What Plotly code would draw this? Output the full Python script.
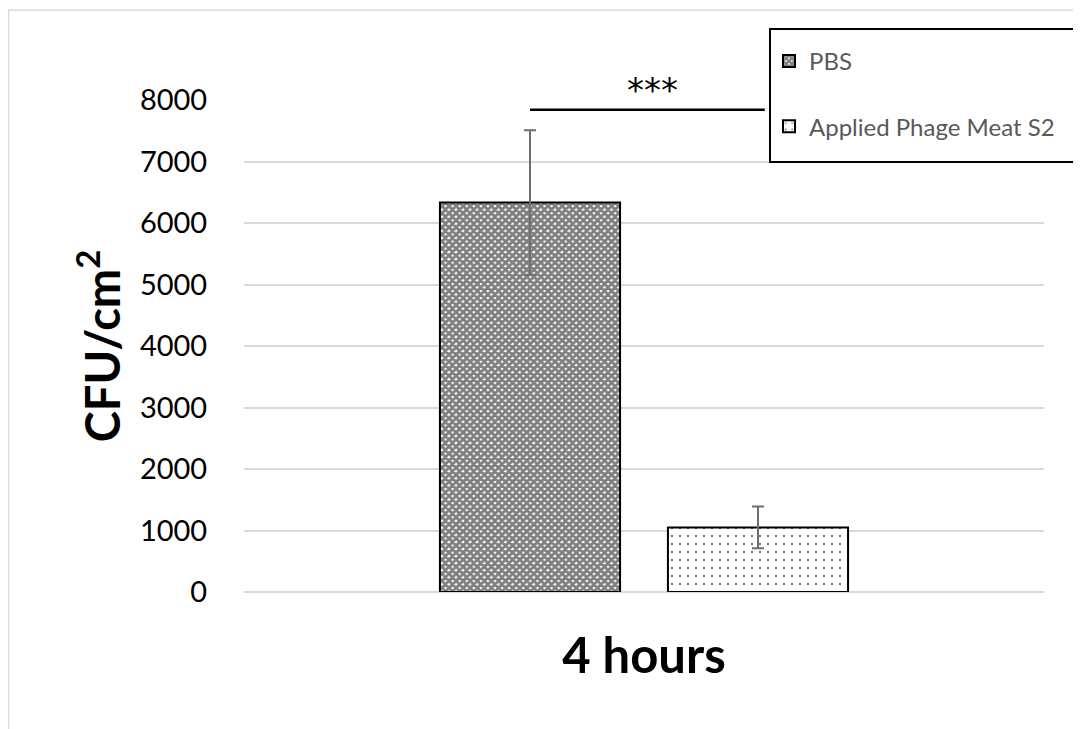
import plotly.graph_objects as go

# ---- data ----
categories = ["4 hours"]
series_names = ["PBS", "Applied Phage Meat S2"]
pbs_values = [6335]
pbs_err = [1175]
phage_values = [1050]
phage_err = [340]
y_ticks = [0, 1000, 2000, 3000, 4000, 5000, 6000, 7000, 8000]
sig_label = "***"
sig_level = 7840

FONT = "Lato"

# plot area in screen pixels (page body has an 8px margin)
PL, PR, PT, PB = 244, 1044, 100, 592
PW, PH = PR - PL, PB - PT


def px(x):
    return (x - PL) / PW


def py(y):
    return (PB - y) / PH


fig = go.Figure()
fig.add_trace(go.Bar(
    name=series_names[0], x=categories, y=pbs_values,
    error_y=dict(type="data", array=pbs_err, color="#6e6e6e", thickness=2, width=6),
    marker=dict(color="white", line=dict(color="black", width=2),
                pattern=dict(shape="x", size=5, solidity=0.8, fgcolor="black", bgcolor="white")),
    legendgroup="a",
))
fig.add_trace(go.Bar(
    name=series_names[1], x=categories, y=phage_values,
    error_y=dict(type="data", array=phage_err, color="#6e6e6e", thickness=2, width=6),
    marker=dict(color="white", line=dict(color="black", width=2),
                pattern=dict(shape=".", size=8, solidity=0.08, fgcolor="black", bgcolor="white")),
    legendgroup="b",
))

# significance bracket (category axis: index 0 spans -0.5..0.5)
sig_x0, sig_x1 = -0.1425, 0.151
fig.add_shape(type="line", xref="x", yref="y", x0=sig_x0, x1=sig_x1, y0=sig_level, y1=sig_level,
              line=dict(color="black", width=2.5), layer="above")
fig.add_annotation(x=(sig_x0 + sig_x1) / 2 + 0.006, y=sig_level, yref="y", xref="x",
                   text=sig_label, showarrow=False, yanchor="middle", yshift=20,
                   font=dict(family="DejaVu Sans", size=34, color="black"))

# legend frame
fig.add_shape(type="rect", xref="paper", yref="paper",
              x0=px(770), x1=px(1075), y0=py(162), y1=py(29),
              line=dict(color="black", width=2), fillcolor="white", layer="above")
# outer chart border (left & top visible)
fig.add_shape(type="rect", xref="paper", yref="paper",
              x0=px(8.5), x1=px(1200), y0=py(800), y1=py(10),
              line=dict(color="#d9d9d9", width=1.5), fillcolor="rgba(0,0,0,0)", layer="below")

fig.update_layout(
    width=1073, height=721,
    margin=dict(l=PL - 8, r=1073 - (PR - 8), t=PT - 8, b=721 - (PB - 8)),
    paper_bgcolor="white", plot_bgcolor="white",
    barmode="group", bargap=0.43, bargroupgap=0.21,
    font=dict(family=FONT, color="black"),
    showlegend=True,
    legend=dict(x=px(769), y=py(39), xanchor="left", yanchor="top",
                bgcolor="rgba(0,0,0,0)", borderwidth=0,
                font=dict(family=FONT, size=24, color="#595959"),
                traceorder="grouped", tracegroupgap=31),
    xaxis=dict(showgrid=False, showline=False, zeroline=False,
               ticks="outside", ticklen=21, tickcolor="rgba(0,0,0,0)",
               tickfont=dict(family=FONT, size=49, weight="bold", color="black")),
    yaxis=dict(range=[0, 8000], tickvals=y_ticks, showgrid=True, gridcolor="#d9d9d9", gridwidth=1.5,
               zeroline=True, zerolinecolor="#d9d9d9", zerolinewidth=1.5, showline=False,
               ticks="outside", ticklen=30, tickcolor="rgba(0,0,0,0)",
               tickfont=dict(family=FONT, size=29, color="black"),
               title=dict(text="CFU/cm<sup>2</sup>", standoff=4,
                          font=dict(family=FONT, size=47, weight="bold", color="black"))),
)

fig.write_html("out.html")
